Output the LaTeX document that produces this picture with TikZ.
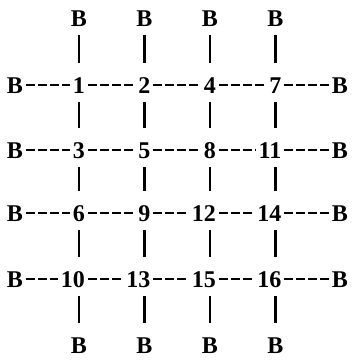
\documentclass[tikz,border=0pt]{standalone}
\usepackage{fontspec}
\newfontfamily\tw{Liberation Serif}
\begin{document}
\begin{tikzpicture}[x=1pt,y=-1pt,
  lab/.style={inner sep=0pt, text height=16.2pt, text depth=0pt, font=\tw\bfseries\fontsize{24}{28}\selectfont},
  bnode/.style={lab, anchor=center},
  num/.style={lab, anchor=east},
  hdash/.style={line width=2.3pt, dash pattern=on 9pt off 3pt, shorten <=3pt, shorten >=3pt},
  vbar/.style={line width=2.8pt, shorten <=9pt, shorten >=14pt}]
\fill[white] (0,0) rectangle (352,360);
\useasboundingbox (0,0) rectangle (352,360);
% column and row positions
\def\ca{79}\def\cb{144.5}\def\cc{210}\def\cd{275.5}
\def\ra{85}\def\rb{150}\def\rc{213}\def\rd{279}
% top and bottom B
\node[bnode] (t1) at (\ca,18) {B};
\node[bnode] (t2) at (\cb,18) {B};
\node[bnode] (t3) at (\cc,18) {B};
\node[bnode] (t4) at (\cd,18) {B};
\node[bnode] (b1) at (\ca,345) {B};
\node[bnode] (b2) at (\cb,345) {B};
\node[bnode] (b3) at (\cc,345) {B};
\node[bnode] (b4) at (\cd,345) {B};
% left and right B
\node[bnode] (l1) at (15,\ra) {B};
\node[bnode] (l2) at (15,\rb) {B};
\node[bnode] (l3) at (15,\rc) {B};
\node[bnode] (l4) at (15,\rd) {B};
\node[bnode] (r1) at (340,\ra) {B};
\node[bnode] (r2) at (340,\rb) {B};
\node[bnode] (r3) at (340,\rc) {B};
\node[bnode] (r4) at (340,\rd) {B};
% numbers (last digit on the column)
\node[num] (n1)  at (\ca+6,\ra) {1};
\node[num] (n2)  at (\cb+6,\ra) {2};
\node[num] (n4)  at (\cc+6,\ra) {4};
\node[num] (n7)  at (\cd+6,\ra) {7};
\node[num] (n3)  at (\ca+6,\rb) {3};
\node[num] (n5)  at (\cb+6,\rb) {5};
\node[num] (n8)  at (\cc+6,\rb) {8};
\node[num] (n11) at (\cd+6,\rb) {11};
\node[num] (n6)  at (\ca+6,\rc) {6};
\node[num] (n9)  at (\cb+6,\rc) {9};
\node[num] (n12) at (\cc+6,\rc) {12};
\node[num] (n14) at (\cd+6,\rc) {14};
\node[num] (n10) at (\ca+6,\rd) {10};
\node[num] (n13) at (\cb+6,\rd) {13};
\node[num] (n15) at (\cc+6,\rd) {15};
\node[num] (n16) at (\cd+6,\rd) {16};
% horizontal connectors
\draw[hdash] (l1) -- (n1); \draw[hdash] (n1) -- (n2); \draw[hdash] (n2) -- (n4); \draw[hdash] (n4) -- (n7); \draw[hdash] (n7) -- (r1);
\draw[hdash] (l2) -- (n3); \draw[hdash] (n3) -- (n5); \draw[hdash] (n5) -- (n8); \draw[hdash] (n8) -- (n11); \draw[hdash] (n11) -- (r2);
\draw[hdash] (l3) -- (n6); \draw[hdash] (n6) -- (n9); \draw[hdash] (n9) -- (n12); \draw[hdash] (n12) -- (n14); \draw[hdash] (n14) -- (r3);
\draw[hdash] (l4) -- (n10); \draw[hdash] (n10) -- (n13); \draw[hdash] (n13) -- (n15); \draw[hdash] (n15) -- (n16); \draw[hdash] (n16) -- (r4);
% vertical connectors
\foreach \c/\a/\b/\d/\e in {1/n1/n3/n6/n10, 2/n2/n5/n9/n13, 3/n4/n8/n12/n15, 4/n7/n11/n14/n16}{
  \draw[vbar] (t\c.south) -- (\a.north -| t\c);
  \draw[vbar] (\a.south -| t\c) -- (\b.north -| t\c);
  \draw[vbar] (\b.south -| t\c) -- (\d.north -| t\c);
  \draw[vbar] (\d.south -| t\c) -- (\e.north -| t\c);
  \draw[vbar] (\e.south -| t\c) -- (b\c.north);
}
\end{tikzpicture}
\end{document}
